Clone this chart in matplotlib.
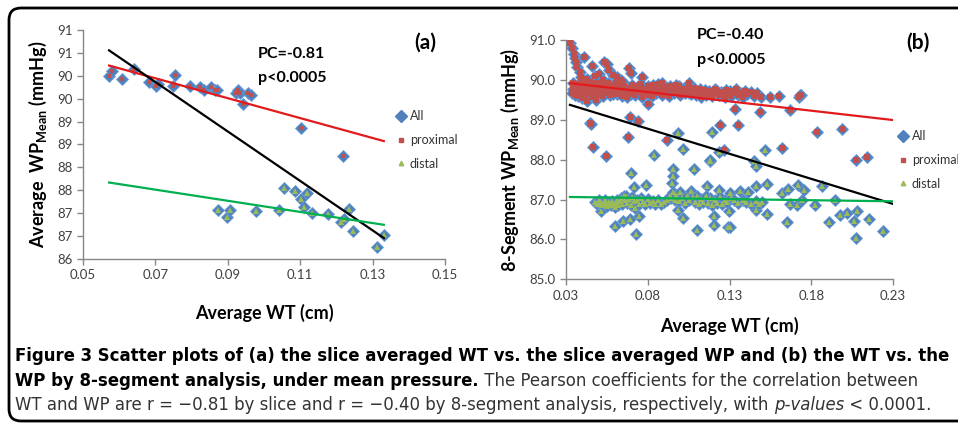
import numpy as np
import matplotlib
matplotlib.use('Agg')
import matplotlib.pyplot as plt
from matplotlib.lines import Line2D
from matplotlib.path import Path
from matplotlib.patches import PathPatch

plt.rcParams['font.family'] = ['Lato', 'DejaVu Sans']
plt.rcParams['mathtext.fontset'] = 'custom'
plt.rcParams['mathtext.rm'] = 'Lato'
plt.rcParams['mathtext.bf'] = 'Lato:bold'

# ---------------- panel (a): slice averaged ----------------
a_prox_x = [0.0572, 0.0580, 0.0607, 0.0640, 0.0681, 0.0701, 0.0707, 0.0749, 0.0755, 0.0796,
            0.0823, 0.0834, 0.0854, 0.0864, 0.0871, 0.0922, 0.0928, 0.0933, 0.0942, 0.0956,
            0.0963, 0.1101, 0.1217]
a_prox_y = [90.00, 90.10, 89.94, 90.15, 89.87, 89.78, 89.82, 89.78, 90.02, 89.78,
            89.76, 89.70, 89.75, 89.69, 89.70, 89.62, 89.68, 89.62, 89.38, 89.62,
            89.58, 88.87, 88.25]
a_dist_x = [0.0873, 0.0899, 0.0905, 0.0977, 0.1041, 0.1054, 0.1085, 0.1102, 0.1111, 0.1119,
            0.1133, 0.1176, 0.1212, 0.1221, 0.1235, 0.1245, 0.1311, 0.1331]
a_dist_y = [87.06, 86.91, 87.06, 87.04, 87.08, 87.54, 87.49, 87.30, 87.14, 87.45,
            87.00, 86.98, 86.80, 86.87, 87.09, 86.62, 86.27, 86.52]
a_xticks = [0.05, 0.07, 0.09, 0.11, 0.13, 0.15]
a_yticks = [86, 86.5, 87, 87.5, 88, 88.5, 89, 89.5, 90, 90.5, 91]
a_ylabels = ['86', '87', '87', '88', '88', '89', '89', '90', '90', '91', '91']

# ---------------- panel (b): 8-segment ----------------
b_prox = [
    # steep group near the thin walls
    (0.0324, 90.93), (0.0335, 90.79), (0.0349, 90.66), (0.0357, 90.56), (0.0361, 90.46),
    (0.0369, 90.33), (0.0386, 90.20), (0.0390, 90.08), (0.0412, 90.58), (0.0431, 90.01),
    (0.0457, 90.35), (0.0478, 90.10), (0.0504, 90.16), (0.0529, 89.99), (0.0533, 90.44),
    (0.0549, 90.41), (0.0565, 90.25), (0.0590, 90.12), (0.0610, 90.06), (0.0635, 89.99),
    (0.0651, 89.95), (0.0686, 90.30), (0.0698, 90.18), (0.0763, 90.08), (0.0886, 89.91),
    (0.1055, 89.91),
    # dense band
    (0.0335, 89.66), (0.0360, 89.85), (0.0365, 89.72), (0.0372, 89.60), (0.0378, 89.90),
    (0.0383, 89.78), (0.0390, 89.68), (0.0395, 89.55), (0.0400, 89.82), (0.0405, 89.95),
    (0.0410, 89.74), (0.0415, 89.62), (0.0420, 89.88), (0.0425, 89.70), (0.0430, 89.48),
    (0.0438, 89.80), (0.0445, 89.66), (0.0452, 89.92), (0.0460, 89.75), (0.0468, 89.58),
    (0.0475, 89.85), (0.0482, 89.50), (0.0490, 89.72), (0.0498, 89.88), (0.0505, 89.64),
    (0.0512, 89.78), (0.0520, 89.95), (0.0528, 89.70), (0.0538, 89.85), (0.0545, 89.66),
    (0.0555, 89.92), (0.0562, 89.75), (0.0572, 89.62), (0.0580, 89.86), (0.0590, 89.70),
    (0.0600, 89.80), (0.0612, 89.65), (0.0622, 89.90), (0.0632, 89.74), (0.0645, 89.60),
    (0.0340, 89.78), (0.0352, 89.70), (0.0368, 89.82), (0.0376, 89.66), (0.0388, 89.88),
    (0.0398, 89.72), (0.0408, 89.84), (0.0418, 89.76), (0.0428, 89.92), (0.0436, 89.64),
    (0.0442, 89.86), (0.0450, 89.74), (0.0458, 89.62), (0.0465, 89.90), (0.0472, 89.70),
    (0.0486, 89.80), (0.0495, 89.62), (0.0510, 89.88), (0.0518, 89.68), (0.0535, 89.76),
    (0.0548, 89.84), (0.0558, 89.68), (0.0575, 89.78), (0.0595, 89.88), (0.0618, 89.76),
    (0.0345, 89.92), (0.0356, 89.62), (0.0392, 89.94), (0.0402, 89.60), (0.0423, 89.80),
    (0.0447, 89.94), (0.0462, 89.68), (0.0485, 89.92), (0.0502, 89.82), (0.0525, 89.60),
    (0.0552, 89.72), (0.0585, 89.64), (0.0605, 89.92), (0.0628, 89.82), (0.0655, 89.84),
    (0.0680, 89.70), (0.0705, 89.86), (0.0730, 89.74), (0.0756, 89.90), (0.0782, 89.72),
    (0.0806, 89.62), (0.0832, 89.88), (0.0858, 89.76), (0.0882, 89.84), (0.0912, 89.66),
    (0.0938, 89.84), (0.0965, 89.74), (0.0992, 89.84), (0.1022, 89.72), (0.1052, 89.66),
    (0.1085, 89.80), (0.1118, 89.76), (0.1148, 89.74), (0.1180, 89.66), (0.1212, 89.78),
    (0.1245, 89.70), (0.1280, 89.74), (0.1318, 89.66), (0.1345, 89.70), (0.1395, 89.72),
    (0.0660, 89.72), (0.0672, 89.58), (0.0685, 89.80), (0.0700, 89.65), (0.0712, 89.76),
    (0.0725, 89.62), (0.0738, 89.84), (0.0750, 89.70), (0.0762, 89.58), (0.0775, 89.78),
    (0.0788, 89.66), (0.0800, 89.85), (0.0812, 89.72), (0.0825, 89.60), (0.0838, 89.80),
    (0.0850, 89.68), (0.0862, 89.90), (0.0875, 89.74), (0.0890, 89.62), (0.0905, 89.82),
    (0.0918, 89.70), (0.0930, 89.60), (0.0945, 89.78), (0.0958, 89.66), (0.0972, 89.86),
    (0.0985, 89.72), (0.1000, 89.62), (0.1015, 89.76), (0.1030, 89.68), (0.1045, 89.80),
    (0.1062, 89.64), (0.1078, 89.74), (0.1095, 89.62), (0.1110, 89.70), (0.1125, 89.58),
    (0.1140, 89.68), (0.1158, 89.62), (0.1172, 89.72), (0.1190, 89.60), (0.1205, 89.68),
    (0.1220, 89.74), (0.1238, 89.62), (0.1255, 89.66), (0.1270, 89.56), (0.1288, 89.64),
    (0.1300, 89.72), (0.1312, 89.60), (0.1325, 89.68), (0.1338, 89.76), (0.1350, 89.62),
    (0.1368, 89.66), (0.1385, 89.58), (0.1410, 89.64), (0.1432, 89.70), (0.1450, 89.60),
    (0.1470, 89.66), (0.1495, 89.58), (0.1545, 89.58), (0.1604, 89.59), (0.1727, 89.58),
    (0.1737, 89.61), (0.1730, 89.63),
    # lower outliers
    (0.0449, 88.93), (0.0453, 88.89), (0.0467, 88.31), (0.0543, 88.10), (0.0678, 88.57),
    (0.0692, 89.07), (0.0743, 88.97), (0.0800, 89.39), (0.0919, 88.49), (0.1243, 88.88),
    (0.1265, 88.24), (0.1335, 89.27), (0.1351, 88.87), (0.1488, 89.20), (0.1620, 88.28),
    (0.1672, 89.24), (0.1835, 88.70), (0.1988, 88.76), (0.2073, 87.99), (0.2141, 88.06),
]
b_dist = [
    # scattered
    (0.0696, 87.66), (0.0716, 87.32), (0.0790, 87.36), (0.0516, 86.72), (0.0600, 86.34),
    (0.0647, 86.46), (0.0692, 86.50), (0.0729, 86.13), (0.0749, 86.59), (0.0953, 87.76),
    (0.0957, 87.59), (0.0947, 87.42), (0.1080, 87.76), (0.1178, 87.97), (0.0841, 88.12),
    (0.0988, 86.74), (0.1018, 86.54), (0.1104, 86.23), (0.1206, 86.59), (0.1206, 86.36),
    (0.1165, 87.34), (0.1233, 87.24), (0.1290, 86.30), (0.1447, 87.97), (0.1461, 87.84),
    (0.1304, 87.17), (0.1366, 87.22), (0.1416, 87.20), (0.1461, 87.34), (0.1529, 87.39),
    (0.1294, 86.71), (0.1304, 86.30), (0.1461, 86.75), (0.1529, 86.64), (0.1621, 87.17),
    (0.1658, 87.26), (0.1722, 87.36), (0.1757, 87.24), (0.1866, 87.34), (0.1651, 86.44),
    (0.1667, 86.90), (0.1712, 86.86), (0.1743, 87.00), (0.1825, 86.86), (0.1906, 86.44),
    (0.1947, 87.00), (0.1974, 86.61), (0.2019, 86.67), (0.2059, 86.46), (0.2080, 86.71),
    (0.2076, 86.04), (0.2151, 86.50), (0.2241, 86.21), (0.0982, 88.66), (0.1018, 88.26),
    (0.1192, 88.70), (0.1182, 87.99), (0.1233, 88.20), (0.1519, 88.24),
    # dense band
    (0.0480, 86.95), (0.0490, 86.90), (0.0500, 86.98), (0.0508, 86.88), (0.0515, 86.94),
    (0.0522, 86.86), (0.0530, 86.92), (0.0538, 86.98), (0.0545, 86.88), (0.0552, 86.84),
    (0.0560, 86.94), (0.0568, 86.90), (0.0575, 86.86), (0.0582, 86.96), (0.0590, 86.88),
    (0.0598, 86.82), (0.0605, 86.92), (0.0612, 87.00), (0.0620, 86.86), (0.0628, 86.96),
    (0.0636, 87.05), (0.0645, 86.90), (0.0652, 87.08), (0.0660, 86.98), (0.0668, 87.10),
    (0.0676, 86.92), (0.0685, 87.02), (0.0695, 86.86), (0.0705, 87.06), (0.0715, 86.96),
    (0.0725, 86.80), (0.0735, 87.00), (0.0745, 86.90), (0.0758, 87.04), (0.0770, 86.94),
    (0.0785, 86.88), (0.0800, 87.02), (0.0815, 86.92), (0.0830, 86.96), (0.0845, 86.88),
    (0.0860, 86.98), (0.0880, 86.90), (0.0900, 86.94), (0.0920, 87.00), (0.0935, 87.10),
    (0.0945, 87.05), (0.0955, 87.18), (0.0965, 87.00), (0.0975, 87.12), (0.0990, 86.96),
    (0.1000, 87.20), (0.1010, 87.04), (0.1025, 86.92), (0.1040, 87.10), (0.1050, 86.98),
    (0.1062, 87.22), (0.1075, 87.06), (0.1088, 86.94), (0.1100, 87.10), (0.1112, 86.88),
    (0.1125, 87.02), (0.1140, 86.94), (0.1155, 87.08), (0.1168, 86.92), (0.1180, 87.04),
    (0.1195, 86.86), (0.1210, 87.00), (0.1225, 86.92), (0.1240, 87.06), (0.1255, 86.90),
    (0.1270, 87.00), (0.1285, 86.94), (0.1310, 87.04), (0.1330, 86.98), (0.1350, 86.92),
    (0.1380, 87.00), (0.1400, 86.94), (0.1430, 86.88), (0.1460, 86.96), (0.1480, 86.90),
    (0.1500, 86.94),
]
b_xticks = [0.03, 0.08, 0.13, 0.18, 0.23]
b_yticks = [85.0, 86.0, 87.0, 88.0, 89.0, 90.0, 91.0]

BLUE = '#4F81BD'
RED_M = '#C0504D'
GREEN_M = '#9BBB59'
RED_L = '#E31A1C'
GREEN_L = '#00B050'
AXC = '#868686'
TXT = '#404040'


def scatter_panel(ax, px, py, dx, dy, x_end, red_ms, tri_ms):
    px, py, dx, dy = map(np.asarray, (px, py, dx, dy))
    allx = np.concatenate([px, dx])
    ally = np.concatenate([py, dy])
    ax.plot(allx, ally, 'D', ms=6.0, color=BLUE, mec='#6A9AD8', mew=0.6, zorder=2)
    ax.plot(px, py, 's', ms=red_ms, color=RED_M, mew=0, zorder=3)
    ax.plot(dx, dy, '^', ms=tri_ms, color=GREEN_M, mew=0, zorder=3)

    # linear trendlines (Excel style)
    x0 = allx.min()
    x1 = allx.max() if x_end is None else x_end
    xs = np.array([x0, x1])
    for xx, yy, c in [(px, py, RED_L), (allx, ally, 'black'), (dx, dy, GREEN_L)]:
        k, b = np.polyfit(xx, yy, 1)
        ax.plot(xs, k * xs + b, color=c, lw=1.6, zorder=4)

    ax.patch.set_alpha(0)
    for s in ['top', 'right']:
        ax.spines[s].set_visible(False)
    for s in ['left', 'bottom']:
        ax.spines[s].set_color(AXC)
        ax.spines[s].set_linewidth(1.0)
    ax.tick_params(colors=AXC, labelcolor=TXT, labelsize=9.5, length=4, width=1.0)


fig = plt.figure(figsize=(9.58, 4.26), dpi=100)

# --- (a)
ax1 = fig.add_axes([83 / 958, 1 - 259 / 426, 362 / 958, 229 / 426])
scatter_panel(ax1, a_prox_x, a_prox_y, a_dist_x, a_dist_y, None, 3.2, 5.0)
ax1.set_xlim(0.05, 0.15)
ax1.set_ylim(86, 91)
ax1.set_xticks(a_xticks)
ax1.set_xticklabels(['%.2f' % v for v in a_xticks])
ax1.set_yticks(a_yticks)
ax1.set_yticklabels(a_ylabels)
ax1.set_xlabel('Average WT (cm)', fontsize=13, fontweight='bold', labelpad=16)
ax1.set_ylabel(r'Average  WP$_{\mathbf{Mean}}$ (mmHg)', fontsize=13, fontweight='bold', labelpad=6)

# --- (b)
bpx, bpy = zip(*b_prox)
bdx, bdy = zip(*b_dist)
ax2 = fig.add_axes([566 / 958, 1 - 279.3 / 426, 327 / 958, 239.3 / 426])
scatter_panel(ax2, bpx, bpy, bdx, bdy, 0.23, 4.6, 5.0)
ax2.set_xlim(0.03, 0.23)
ax2.set_ylim(85, 91)
ax2.set_xticks(b_xticks)
ax2.set_xticklabels(['%.2f' % v for v in b_xticks])
ax2.set_yticks(b_yticks)
ax2.set_yticklabels(['%.1f' % v for v in b_yticks])
ax2.set_xlabel('Average WT (cm)', fontsize=13, fontweight='bold', labelpad=11)
ax2.set_ylabel(r'8-Segment WP$_{\mathbf{Mean}}$ (mmHg)', fontsize=13, fontweight='bold', labelpad=6)

# overlay in pixel coordinates for annotations, frame and caption
cap = fig.add_axes([0, 0, 1, 1], zorder=10)
cap.set_xlim(0, 958)
cap.set_ylim(426, 0)
cap.set_autoscale_on(False)
cap.axis('off')

cap.text(258, 54, 'PC=-0.81', fontsize=11.5, fontweight='bold', va='center')
cap.text(258, 78, 'p<0.0005', fontsize=11.5, fontweight='bold', va='center')
cap.text(414, 43, '(a)', fontsize=15, fontweight='bold', va='center')
cap.text(697, 35, 'PC=-0.40', fontsize=11.5, fontweight='bold', va='center')
cap.text(697, 60, 'p<0.0005', fontsize=11.5, fontweight='bold', va='center')
cap.text(906, 43, '(b)', fontsize=15, fontweight='bold', va='center')

handles = [Line2D([], [], marker='D', ls='none', ms=6, color=BLUE),
           Line2D([], [], marker='s', ls='none', ms=2.5, color=RED_M),
           Line2D([], [], marker='^', ls='none', ms=3.2, color=GREEN_M)]
labels = ['All', 'proximal', 'distal']
for ax, anchor in [(ax1, (396, 110)), (ax2, (898, 130))]:
    leg = ax.legend(handles, labels, loc='upper left', bbox_to_anchor=anchor,
                    bbox_transform=cap.transData, frameon=False, fontsize=9,
                    handlelength=0.8, handletextpad=0.3, labelspacing=0.95,
                    borderpad=0, borderaxespad=0)
    for t in leg.get_texts():
        t.set_color('#333333')

# rounded frame, open on the right side
L, T, B, R, rad = 9, 8, 421, 1000, 12
verts = [(R, T), (L + rad, T), (L, T), (L, T + rad), (L, B - rad), (L, B), (L + rad, B), (R, B)]
codes = [Path.MOVETO, Path.LINETO, Path.CURVE3, Path.CURVE3, Path.LINETO,
         Path.CURVE3, Path.CURVE3, Path.LINETO]
cap.add_patch(PathPatch(Path(verts, codes), fill=False, ec='black', lw=2.0))

# caption
fs = 12
kw = dict(family='DejaVu Sans', fontstretch='condensed', fontsize=fs)
l1 = cap.text(15, 361, 'Figure 3 Scatter plots of (a) the slice averaged WT vs. the slice averaged WP and (b) the WT vs. the',
              fontweight='bold', va='baseline', **kw)
l2 = cap.text(15, 386, 'WP by 8-segment analysis, under mean pressure.',
              fontweight='bold', va='baseline', **kw)
t2 = cap.annotate(' The Pearson coefficients for the correlation between', xy=(1, 0), xycoords=l2,
                  color='#333333', va='bottom', **kw)
l3 = cap.text(15, 410, 'WT and WP are r = \u22120.81 by slice and r = \u22120.40 by 8-segment analysis, respectively, with ',
              color='#333333', va='baseline', **kw)
l4 = cap.annotate('p-values', xy=(1, 0), xycoords=l3, style='italic', color='#333333',
                  va='bottom', **kw)
l5 = cap.annotate(' < 0.0001.', xy=(1, 0), xycoords=l4, color='#333333', va='bottom', **kw)

# fit caption size so that every line keeps within the frame
r = fig.canvas.get_renderer()
wid = lambda *ts: sum(t.get_window_extent(r).width for t in ts)
scale = min(931.0 / wid(l1), 935.0 / wid(l2, t2), 935.0 / wid(l3, l4, l5))
for t in [l1, l2, t2, l3, l4, l5]:
    t.set_fontsize(fs * scale)

fig.savefig('out.png', dpi=100)
